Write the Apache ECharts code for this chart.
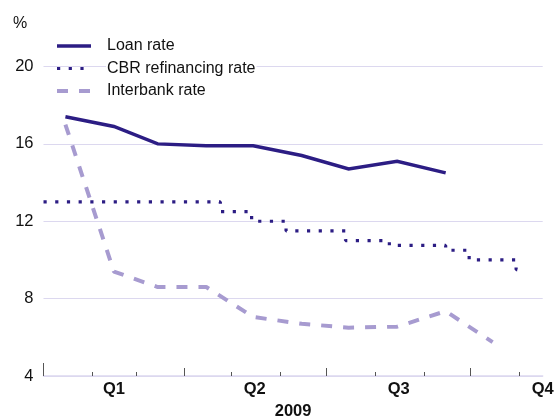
<!DOCTYPE html>
<html>
<head>
<meta charset="utf-8">
<script src="https://cdn.jsdelivr.net/npm/echarts@6/dist/echarts.min.js"></script>
<style>
html,body{margin:0;padding:0;background:#fff;}
#c{width:555px;height:419px;}
</style>
</head>
<body>
<div id="c"></div>
<script>
// ---- data ----
var yTicks = [4, 8, 12, 16, 20];
var quarterLabels = ['Q1', 'Q2', 'Q3', 'Q4'];
var quarterCenters = ['2009-02-15', '2009-05-16', '2009-08-16', '2009-11-16'];
var quarterStarts = ['2009-04-01', '2009-07-01', '2009-10-01'];
var monthStarts = ['2009-02-01', '2009-03-01', '2009-05-01', '2009-06-01', '2009-08-01', '2009-09-01', '2009-11-01'];
var yearLabel = '2009';
var seriesNames = ['Loan rate', 'CBR refinancing rate', 'Interbank rate'];

var loanDates = ['2009-01-15', '2009-02-15', '2009-03-15', '2009-04-15', '2009-05-15', '2009-06-15', '2009-07-15', '2009-08-15', '2009-09-15'];
var loanRate = [17.4, 16.9, 16.0, 15.9, 15.9, 15.4, 14.7, 15.1, 14.5];

var cbrDates = ['2009-01-01', '2009-04-24', '2009-05-14', '2009-06-05', '2009-07-13', '2009-08-10', '2009-09-15', '2009-09-30', '2009-10-30', '2009-10-31'];
var cbrRate = [13, 12.5, 12, 11.5, 11, 10.75, 10.5, 10, 9.5, 9.5];

var interbankDates = ['2009-01-15', '2009-02-15', '2009-03-15', '2009-04-15', '2009-05-15', '2009-06-15', '2009-07-15', '2009-08-15', '2009-09-15', '2009-10-15'];
var interbankRate = [17.0, 9.4, 8.6, 8.6, 7.05, 6.7, 6.5, 6.55, 7.35, 5.75];

// ---- helpers ----
function day(s) {
  var p = s.split('-');
  return (Date.UTC(+p[0], +p[1] - 1, +p[2]) - Date.UTC(2009, 0, 1)) / 86400000;
}
function pairs(d, v) { return d.map(function (x, i) { return [day(x), v[i]]; }); }

var xMin = day('2009-01-01');
var xMax = day(quarterCenters[3]);
var qCenterDays = quarterCenters.map(day);

var fontFam = '"Liberation Sans", Arial, Helvetica, sans-serif';
var dark = '#2c1d84';
var light = '#a79bd0';
var gridCol = '#dcd8ef';

var styles = [
  { color: dark, width: 3.5, type: 'solid', cap: 'butt', join: 'miter' },
  { color: dark, width: 3.2, type: [3.2, 8.5], cap: 'butt' },
  { color: light, width: 4, type: [11, 11], cap: 'butt' }
];

function baseX(extra) {
  var o = {
    type: 'value', min: xMin, max: xMax, position: 'bottom',
    splitLine: { show: false },
    axisLine: { show: false },
    axisLabel: { show: false },
    axisTick: { show: false }
  };
  for (var k in extra) o[k] = extra[k];
  return o;
}

var chart = echarts.init(document.getElementById('c'), null, { renderer: 'canvas' });
chart.setOption({
  animation: false,
  backgroundColor: '#fff',
  textStyle: { fontFamily: fontFam },
  title: {
    text: '%', left: 8, top: 11,
    textStyle: { fontSize: 16, fontWeight: 'normal', color: '#111', fontFamily: fontFam }
  },
  grid: { left: 43.5, right: 12.3, top: 66.5, bottom: 43, containLabel: false, outerBoundsMode: 'none' },
  legend: {
    orient: 'vertical', left: 50, top: 33,
    itemWidth: 34, itemHeight: 14, itemGap: 6.5,
    data: seriesNames.map(function (n, i) {
      return { name: n, itemStyle: { opacity: 0 }, lineStyle: { width: styles[i].width, type: styles[i].type, color: styles[i].color } };
    }),
    itemStyle: { opacity: 0 },
    formatter: function (n) { return '{p|}{t|' + n + '}'; },
    textStyle: {
      fontSize: 16, color: '#111', fontFamily: fontFam,
      rich: {
        p: { width: 10 },
        t: { fontSize: 16, color: '#111', backgroundColor: '#fff', fontFamily: fontFam, padding: [0, 1, 0, 1] }
      }
    }
  },
  xAxis: [
    baseX({
      axisLine: { show: true, lineStyle: { color: gridCol, width: 1.5 } },
      axisTick: { show: true, inside: true, length: 4, customValues: monthStarts.map(day), lineStyle: { color: '#555', width: 1 } },
      axisLabel: {
        show: true, customValues: qCenterDays, margin: 4.5,
        fontSize: 16.5, fontWeight: 'bold', color: '#111', fontFamily: fontFam,
        formatter: function (v) {
          var i = qCenterDays.indexOf(v);
          return i >= 0 ? quarterLabels[i] : '';
        }
      },
      name: yearLabel, nameLocation: 'middle', nameGap: 27,
      nameTextStyle: { fontSize: 16.5, fontWeight: 'bold', color: '#111', fontFamily: fontFam }
    }),
    baseX({
      axisTick: { show: true, inside: true, length: 8, customValues: quarterStarts.map(day), lineStyle: { color: '#555', width: 1 } }
    }),
    baseX({
      axisTick: { show: true, inside: true, length: 13, customValues: [xMin], lineStyle: { color: '#555', width: 1 } }
    })
  ],
  yAxis: {
    type: 'value', min: yTicks[0], max: yTicks[yTicks.length - 1], interval: 4,
    axisLine: { show: false }, axisTick: { show: false },
    splitLine: { show: true, lineStyle: { color: gridCol, width: 1.2 } },
    axisLabel: { margin: 10, fontSize: 16.5, color: '#111', fontFamily: fontFam,
      formatter: function (v) { return yTicks.indexOf(v) >= 0 ? String(v) : ''; } }
  },
  series: [
    {
      name: seriesNames[0], type: 'line', symbol: 'none',
      data: pairs(loanDates, loanRate),
      lineStyle: styles[0],
      itemStyle: { color: dark }, z: 4
    },
    {
      name: seriesNames[1], type: 'line', symbol: 'none', step: 'end',
      data: pairs(cbrDates, cbrRate),
      lineStyle: styles[1],
      itemStyle: { color: dark }, z: 3
    },
    {
      name: seriesNames[2], type: 'line', symbol: 'none',
      data: pairs(interbankDates, interbankRate),
      lineStyle: styles[2],
      itemStyle: { color: light }, z: 2
    }
  ]
});
</script>
</body>
</html>
